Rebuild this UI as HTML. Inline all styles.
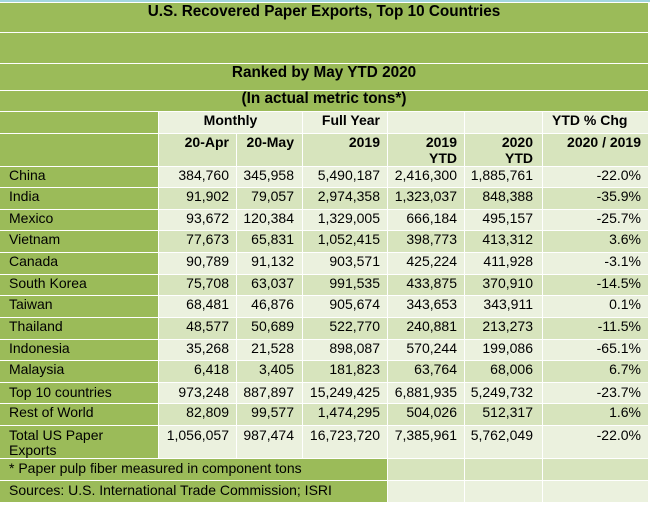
<!DOCTYPE html>
<html><head><meta charset="utf-8"><style>
*{margin:0;padding:0;box-sizing:border-box}
html,body{width:650px;height:506px;background:#fff;overflow:hidden}
#w{position:relative;width:650px;height:506px;font-family:"Liberation Sans",Arial,sans-serif;color:#000}
#w div{position:absolute}
.g{background:#9BBB59}.l{background:#EBF1DE}.d{background:#D7E4BD}
.t{font-size:14px;line-height:16px;white-space:nowrap;height:16px}
.b{font-weight:bold}
.h{font-size:15.3px;font-weight:bold;line-height:18px;white-space:nowrap;left:0;width:648px;text-align:center}
.c0{left:0;width:158px}.c1{left:159px;width:77px}.c2{left:237px;width:65px}.c3{left:303px;width:84px}.c4{left:388px;width:76px}.c5{left:465px;width:77px}.c6{left:543px;width:105px}
.L{left:9px}.r1{right:421px}.r2{right:356px}.r3{right:270px}.r4{right:193px}.r5{right:117px}.r6{right:9px}
</style></head><body><div id="w">
<div style="left:0;top:0;width:650px;height:2px;background:#A3D6DF"></div>

<!-- title rows -->
<div class="g" style="left:0;top:3px;width:648px;height:29px"></div>
<div class="g" style="left:0;top:33px;width:648px;height:30px"></div>
<div class="g" style="left:0;top:64px;width:648px;height:26px"></div>
<div class="g" style="left:0;top:91px;width:648px;height:20px"></div>
<div class="h" style="top:3px">U.S. Recovered Paper Exports, Top 10 Countries</div>
<div class="h" style="top:64px">Ranked by May YTD 2020</div>
<div class="h" style="top:90px">(In actual metric tons*)</div>

<!-- Monthly row -->
<div class="g c0" style="top:112px;height:21px"></div>
<div class="l" style="left:159px;top:112px;width:143px;height:21px"></div>
<div class="l c3" style="top:112px;height:21px"></div>
<div class="l c4" style="top:112px;height:21px"></div>
<div class="l c5" style="top:112px;height:21px"></div>
<div class="l c6" style="top:112px;height:21px"></div>
<div class="t b" style="left:159px;width:143px;text-align:center;top:112px">Monthly</div>
<div class="t b r3" style="top:112px">Full Year</div>
<div class="t b" style="left:552px;top:112px">YTD % Chg</div>

<!-- header row -->
<div class="g c0" style="top:134px;height:32px"></div>
<div class="d c1" style="top:134px;height:32px"></div>
<div class="d c2" style="top:134px;height:32px"></div>
<div class="d c3" style="top:134px;height:32px"></div>
<div class="d c4" style="top:134px;height:32px"></div>
<div class="d c5" style="top:134px;height:32px"></div>
<div class="d c6" style="top:134px;height:32px"></div>
<div class="t b r1" style="top:134px">20-Apr</div>
<div class="t b r2" style="top:134px">20-May</div>
<div class="t b r3" style="top:134px">2019</div>
<div class="t b r4" style="top:134px">2019</div>
<div class="t b r4" style="top:150px">YTD</div>
<div class="t b r5" style="top:134px">2020</div>
<div class="t b r5" style="top:150px">YTD</div>
<div class="t b r6" style="top:134px">2020 / 2019</div>

<!-- China -->
<div class="g c0" style="top:167px;height:20px"></div>
<div class="l c1" style="top:167px;height:20px"></div><div class="l c2" style="top:167px;height:20px"></div><div class="l c3" style="top:167px;height:20px"></div><div class="l c4" style="top:167px;height:20px"></div><div class="l c5" style="top:167px;height:20px"></div><div class="l c6" style="top:167px;height:20px"></div>
<div class="t L" style="top:167px">China</div><div class="t r1" style="top:167px">384,760</div><div class="t r2" style="top:167px">345,958</div><div class="t r3" style="top:167px">5,490,187</div><div class="t r4" style="top:167px">2,416,300</div><div class="t r5" style="top:167px">1,885,761</div><div class="t r6" style="top:167px">-22.0%</div>

<!-- India -->
<div class="g c0" style="top:188px;height:21px"></div>
<div class="d c1" style="top:188px;height:21px"></div><div class="d c2" style="top:188px;height:21px"></div><div class="d c3" style="top:188px;height:21px"></div><div class="d c4" style="top:188px;height:21px"></div><div class="d c5" style="top:188px;height:21px"></div><div class="d c6" style="top:188px;height:21px"></div>
<div class="t L" style="top:188px">India</div><div class="t r1" style="top:188px">91,902</div><div class="t r2" style="top:188px">79,057</div><div class="t r3" style="top:188px">2,974,358</div><div class="t r4" style="top:188px">1,323,037</div><div class="t r5" style="top:188px">848,388</div><div class="t r6" style="top:188px">-35.9%</div>

<!-- Mexico -->
<div class="g c0" style="top:210px;height:20px"></div>
<div class="l c1" style="top:210px;height:20px"></div><div class="l c2" style="top:210px;height:20px"></div><div class="l c3" style="top:210px;height:20px"></div><div class="l c4" style="top:210px;height:20px"></div><div class="l c5" style="top:210px;height:20px"></div><div class="l c6" style="top:210px;height:20px"></div>
<div class="t L" style="top:210px">Mexico</div><div class="t r1" style="top:210px">93,672</div><div class="t r2" style="top:210px">120,384</div><div class="t r3" style="top:210px">1,329,005</div><div class="t r4" style="top:210px">666,184</div><div class="t r5" style="top:210px">495,157</div><div class="t r6" style="top:210px">-25.7%</div>

<!-- Vietnam -->
<div class="g c0" style="top:231px;height:21px"></div>
<div class="d c1" style="top:231px;height:21px"></div><div class="d c2" style="top:231px;height:21px"></div><div class="d c3" style="top:231px;height:21px"></div><div class="d c4" style="top:231px;height:21px"></div><div class="d c5" style="top:231px;height:21px"></div><div class="d c6" style="top:231px;height:21px"></div>
<div class="t L" style="top:231px">Vietnam</div><div class="t r1" style="top:231px">77,673</div><div class="t r2" style="top:231px">65,831</div><div class="t r3" style="top:231px">1,052,415</div><div class="t r4" style="top:231px">398,773</div><div class="t r5" style="top:231px">413,312</div><div class="t r6" style="top:231px">3.6%</div>

<!-- Canada -->
<div class="g c0" style="top:253px;height:21px"></div>
<div class="l c1" style="top:253px;height:21px"></div><div class="l c2" style="top:253px;height:21px"></div><div class="l c3" style="top:253px;height:21px"></div><div class="l c4" style="top:253px;height:21px"></div><div class="l c5" style="top:253px;height:21px"></div><div class="l c6" style="top:253px;height:21px"></div>
<div class="t L" style="top:253px">Canada</div><div class="t r1" style="top:253px">90,789</div><div class="t r2" style="top:253px">91,132</div><div class="t r3" style="top:253px">903,571</div><div class="t r4" style="top:253px">425,224</div><div class="t r5" style="top:253px">411,928</div><div class="t r6" style="top:253px">-3.1%</div>

<!-- South Korea -->
<div class="g c0" style="top:275px;height:20px"></div>
<div class="d c1" style="top:275px;height:20px"></div><div class="d c2" style="top:275px;height:20px"></div><div class="d c3" style="top:275px;height:20px"></div><div class="d c4" style="top:275px;height:20px"></div><div class="d c5" style="top:275px;height:20px"></div><div class="d c6" style="top:275px;height:20px"></div>
<div class="t L" style="top:275px">South Korea</div><div class="t r1" style="top:275px">75,708</div><div class="t r2" style="top:275px">63,037</div><div class="t r3" style="top:275px">991,535</div><div class="t r4" style="top:275px">433,875</div><div class="t r5" style="top:275px">370,910</div><div class="t r6" style="top:275px">-14.5%</div>

<!-- Taiwan -->
<div class="g c0" style="top:296px;height:21px"></div>
<div class="l c1" style="top:296px;height:21px"></div><div class="l c2" style="top:296px;height:21px"></div><div class="l c3" style="top:296px;height:21px"></div><div class="l c4" style="top:296px;height:21px"></div><div class="l c5" style="top:296px;height:21px"></div><div class="l c6" style="top:296px;height:21px"></div>
<div class="t L" style="top:296px">Taiwan</div><div class="t r1" style="top:296px">68,481</div><div class="t r2" style="top:296px">46,876</div><div class="t r3" style="top:296px">905,674</div><div class="t r4" style="top:296px">343,653</div><div class="t r5" style="top:296px">343,911</div><div class="t r6" style="top:296px">0.1%</div>

<!-- Thailand -->
<div class="g c0" style="top:318px;height:21px"></div>
<div class="d c1" style="top:318px;height:21px"></div><div class="d c2" style="top:318px;height:21px"></div><div class="d c3" style="top:318px;height:21px"></div><div class="d c4" style="top:318px;height:21px"></div><div class="d c5" style="top:318px;height:21px"></div><div class="d c6" style="top:318px;height:21px"></div>
<div class="t L" style="top:318px">Thailand</div><div class="t r1" style="top:318px">48,577</div><div class="t r2" style="top:318px">50,689</div><div class="t r3" style="top:318px">522,770</div><div class="t r4" style="top:318px">240,881</div><div class="t r5" style="top:318px">213,273</div><div class="t r6" style="top:318px">-11.5%</div>

<!-- Indonesia -->
<div class="g c0" style="top:340px;height:20px"></div>
<div class="l c1" style="top:340px;height:20px"></div><div class="l c2" style="top:340px;height:20px"></div><div class="l c3" style="top:340px;height:20px"></div><div class="l c4" style="top:340px;height:20px"></div><div class="l c5" style="top:340px;height:20px"></div><div class="l c6" style="top:340px;height:20px"></div>
<div class="t L" style="top:340px">Indonesia</div><div class="t r1" style="top:340px">35,268</div><div class="t r2" style="top:340px">21,528</div><div class="t r3" style="top:340px">898,087</div><div class="t r4" style="top:340px">570,244</div><div class="t r5" style="top:340px">199,086</div><div class="t r6" style="top:340px">-65.1%</div>

<!-- Malaysia -->
<div class="g c0" style="top:361px;height:21px"></div>
<div class="d c1" style="top:361px;height:21px"></div><div class="d c2" style="top:361px;height:21px"></div><div class="d c3" style="top:361px;height:21px"></div><div class="d c4" style="top:361px;height:21px"></div><div class="d c5" style="top:361px;height:21px"></div><div class="d c6" style="top:361px;height:21px"></div>
<div class="t L" style="top:361px">Malaysia</div><div class="t r1" style="top:361px">6,418</div><div class="t r2" style="top:361px">3,405</div><div class="t r3" style="top:361px">181,823</div><div class="t r4" style="top:361px">63,764</div><div class="t r5" style="top:361px">68,006</div><div class="t r6" style="top:361px">6.7%</div>

<!-- Top 10 -->
<div class="g c0" style="top:383px;height:20px"></div>
<div class="l c1" style="top:383px;height:20px"></div><div class="l c2" style="top:383px;height:20px"></div><div class="l c3" style="top:383px;height:20px"></div><div class="l c4" style="top:383px;height:20px"></div><div class="l c5" style="top:383px;height:20px"></div><div class="l c6" style="top:383px;height:20px"></div>
<div class="t L" style="top:384px">Top 10 countries</div><div class="t r1" style="top:384px">973,248</div><div class="t r2" style="top:384px">887,897</div><div class="t r3" style="top:384px">15,249,425</div><div class="t r4" style="top:384px">6,881,935</div><div class="t r5" style="top:384px">5,249,732</div><div class="t r6" style="top:384px">-23.7%</div>

<!-- Rest of World -->
<div class="g c0" style="top:404px;height:21px"></div>
<div class="d c1" style="top:404px;height:21px"></div><div class="d c2" style="top:404px;height:21px"></div><div class="d c3" style="top:404px;height:21px"></div><div class="d c4" style="top:404px;height:21px"></div><div class="d c5" style="top:404px;height:21px"></div><div class="d c6" style="top:404px;height:21px"></div>
<div class="t L" style="top:404px">Rest of World</div><div class="t r1" style="top:404px">82,809</div><div class="t r2" style="top:404px">99,577</div><div class="t r3" style="top:404px">1,474,295</div><div class="t r4" style="top:404px">504,026</div><div class="t r5" style="top:404px">512,317</div><div class="t r6" style="top:404px">1.6%</div>

<!-- Total -->
<div class="g c0" style="top:426px;height:32px"></div>
<div class="l c1" style="top:426px;height:32px"></div><div class="l c2" style="top:426px;height:32px"></div><div class="l c3" style="top:426px;height:32px"></div><div class="l c4" style="top:426px;height:32px"></div><div class="l c5" style="top:426px;height:32px"></div><div class="l c6" style="top:426px;height:32px"></div>
<div class="t L" style="top:427px">Total US Paper</div><div class="t L" style="top:442px">Exports</div>
<div class="t r1" style="top:427px">1,056,057</div><div class="t r2" style="top:427px">987,474</div><div class="t r3" style="top:427px">16,723,720</div><div class="t r4" style="top:427px">7,385,961</div><div class="t r5" style="top:427px">5,762,049</div><div class="t r6" style="top:427px">-22.0%</div>

<!-- footnote -->
<div class="g" style="left:0;top:459px;width:387px;height:21px"></div>
<div class="d c4" style="top:459px;height:21px"></div><div class="d c5" style="top:459px;height:21px"></div><div class="d c6" style="top:459px;height:21px"></div>
<div class="t L" style="top:460px">* Paper pulp fiber measured in component tons</div>

<!-- sources -->
<div class="g" style="left:0;top:481px;width:387px;height:21px"></div>
<div class="l c4" style="top:481px;height:21px"></div><div class="l c5" style="top:481px;height:21px"></div><div class="l c6" style="top:481px;height:21px"></div>
<div class="t L" style="top:482px">Sources: U.S. International Trade Commission; ISRI</div>
</div></body></html>
